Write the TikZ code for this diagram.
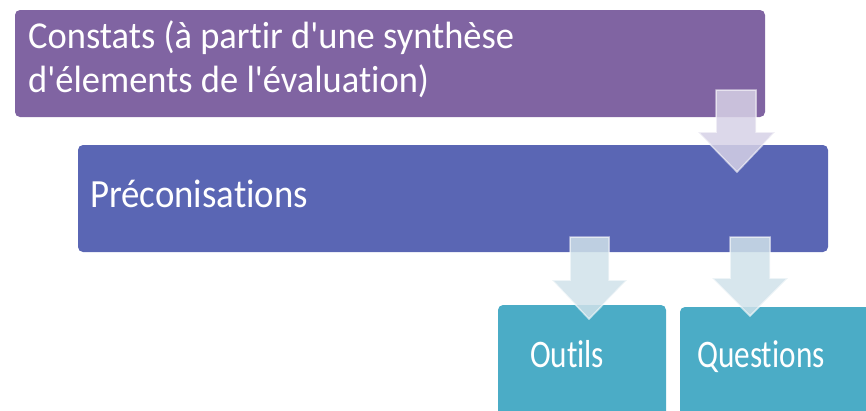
\documentclass[tikz,border=0pt]{standalone}
\usepackage{fontspec}
\newfontfamily\lblfont[FakeStretch=0.8,Ligatures=NoCommon]{Carlito}
\newfontfamily\lblfontA[FakeStretch=0.96,Ligatures=NoCommon]{Carlito}
\newfontfamily\lblfontB[FakeStretch=0.92,Ligatures=NoCommon]{Carlito}
\definecolor{cpurple}{HTML}{8064A2}
\definecolor{cblue}{HTML}{5A66B4}
\definecolor{cteal}{HTML}{4BACC6}
\definecolor{arrA}{HTML}{D6D1E6}
\definecolor{arrB}{HTML}{D0E2EA}
\begin{document}
\begin{tikzpicture}[x=1pt,y=-1pt,
  box/.style={rounded corners=5pt},
  lbl/.style={text=white,inner sep=0pt,font=\lblfont\fontsize{39}{44}\selectfont,align=left},
  blockarrow/.style={fill opacity=0.85,draw=white,draw opacity=0.35,line width=1.5pt,line join=miter}]
\useasboundingbox (0,0) rectangle (866,410);
% boxes
\fill[box,cpurple] (15,10) rectangle (765,117);
\fill[box,cblue] (78,145) rectangle (828,252);
\fill[box,cteal] (498,305) rectangle (666,420);
\fill[box,cteal] (680,307) rectangle (880,420);
% texts
\node[lbl,anchor=base west,font=\lblfontA\fontsize{38}{44}\selectfont] (t1) at (28,92) {Constats (à partir d'une synthèse\\d'élements de l'évaluation)};
\node[lbl,anchor=base west,font=\lblfontB\fontsize{40}{44}\selectfont] (t2) at (90,207) {Préconisations};
\node[lbl,anchor=base west] (t3) at (530,367) {Outils};
\node[lbl,anchor=base west] (t4) at (697,367) {Questions};
% arrows
\fill[blockarrow,fill=arrA] (716,90) -- (756,90) -- (756,132) -- (775,132) -- (737,172) -- (698,132) -- (716,132) -- cycle;
\draw[blockarrow,fill opacity=0] (716,90) -- (756,90) -- (756,132) -- (775,132) -- (737,172) -- (698,132) -- (716,132) -- cycle;
\fill[blockarrow,fill=arrB] (570,237) -- (609,237) -- (609,280) -- (627,280) -- (589,319) -- (552,280) -- (570,280) -- cycle;
\draw[blockarrow,fill opacity=0] (570,237) -- (609,237) -- (609,280) -- (627,280) -- (589,319) -- (552,280) -- (570,280) -- cycle;
\fill[blockarrow,fill=arrB] (730,237) -- (770,237) -- (770,278) -- (788,278) -- (750,316) -- (712,278) -- (730,278) -- cycle;
\draw[blockarrow,fill opacity=0] (730,237) -- (770,237) -- (770,278) -- (788,278) -- (750,316) -- (712,278) -- (730,278) -- cycle;
\end{tikzpicture}
\end{document}
